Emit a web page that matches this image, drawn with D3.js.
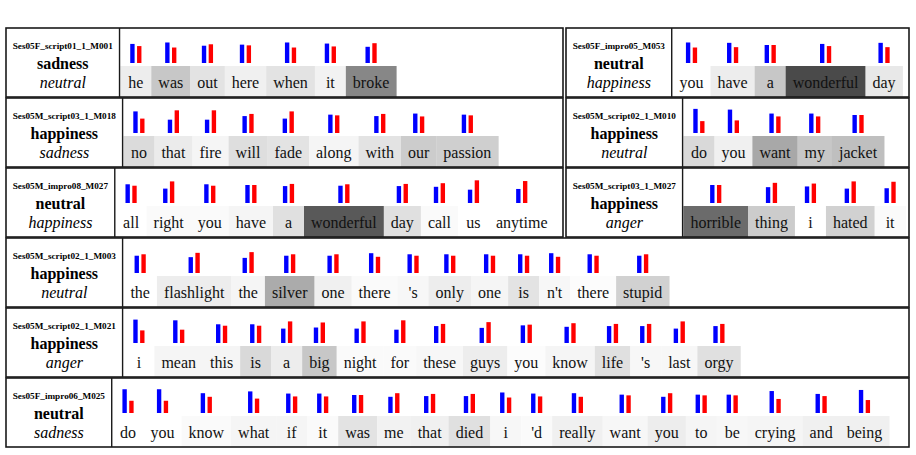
<!DOCTYPE html>
<html><head><meta charset="utf-8">
<script src="https://cdn.jsdelivr.net/npm/d3@7"></script>
<style>body{margin:0;background:#fff} svg{display:block}</style>
</head><body>
<svg id="chart" width="916" height="455"></svg>
<script>
// ---------------- DATA ----------------
const sampleIds = [
  "Ses05F_script01_1_M001", "Ses05F_impro05_M053",
  "Ses05M_script03_1_M018", "Ses05M_script02_1_M010",
  "Ses05M_impro08_M027", "Ses05M_script03_1_M027",
  "Ses05M_script02_1_M003", "Ses05M_script02_1_M021", "Ses05F_impro06_M025"
];
const trueEmotions = ["sadness","neutral","happiness","happiness","neutral","happiness","happiness","happiness","neutral"];
const predEmotions = ["neutral","happiness","sadness","neutral","happiness","anger","neutral","anger","sadness"];

const words = [
  ["he","was","out","here","when","it","broke"],
  ["you","have","a","wonderful","day"],
  ["no","that","fire","will","fade","along","with","our","passion"],
  ["do","you","want","my","jacket"],
  ["all","right","you","have","a","wonderful","day","call","us","anytime"],
  ["horrible","thing","i","hated","it"],
  ["the","flashlight","the","silver","one","there","'s","only","one","is","n't","there","stupid"],
  ["i","mean","this","is","a","big","night","for","these","guys","you","know","life","'s","last","orgy"],
  ["do","you","know","what","if","it","was","me","that","died","i","'d","really","want","you","to","be","crying","and","being"]
];
// word attention weight (cell darkness)
const attention = [
  [0.07,0.22,0.11,0.06,0.11,0.05,0.47],
  [0.00,0.07,0.22,0.71,0.09],
  [0.14,0.08,0.04,0.13,0.11,0.04,0.11,0.20,0.19],
  [0.15,0.06,0.34,0.22,0.25],
  [0.00,0.02,0.02,0.04,0.12,0.65,0.12,0.02,0.00,0.00],
  [0.58,0.20,0.00,0.18,0.02],
  [0.00,0.07,0.04,0.33,0.06,0.02,0.03,0.07,0.04,0.11,0.03,0.01,0.18],
  [0.00,0.04,0.04,0.15,0.07,0.22,0.02,0.02,0.03,0.07,0.01,0.04,0.12,0.03,0.03,0.12],
  [0.00,0.00,0.02,0.04,0.04,0.02,0.11,0.05,0.06,0.12,0.03,0.02,0.06,0.03,0.07,0.04,0.03,0.04,0.06,0.06]
];
// blue bar values
const probBlue = [
  [0.53,0.57,0.48,0.51,0.57,0.54,0.45],
  [0.57,0.56,0.50,0.53,0.56],
  [0.60,0.37,0.37,0.47,0.40,0.51,0.47,0.54,0.51],
  [0.67,0.65,0.54,0.54,0.50],
  [0.52,0.40,0.52,0.50,0.47,0.48,0.47,0.45,0.37,0.39],
  [0.50,0.44,0.46,0.40,0.41],
  [0.48,0.44,0.42,0.48,0.48,0.55,0.52,0.52,0.52,0.52,0.55,0.52,0.48],
  [0.65,0.63,0.52,0.52,0.40,0.43,0.40,0.37,0.47,0.42,0.49,0.45,0.47,0.47,0.40,0.47],
  [0.66,0.66,0.55,0.60,0.54,0.54,0.50,0.45,0.47,0.47,0.57,0.54,0.55,0.51,0.45,0.51,0.51,0.61,0.53,0.64]
];
// red bar values
const probRed = [
  [0.47,0.43,0.52,0.49,0.43,0.46,0.55],
  [0.43,0.44,0.50,0.47,0.44],
  [0.40,0.63,0.63,0.53,0.60,0.49,0.53,0.46,0.49],
  [0.33,0.35,0.46,0.46,0.50],
  [0.48,0.60,0.48,0.50,0.53,0.52,0.53,0.55,0.63,0.61],
  [0.50,0.56,0.54,0.60,0.59],
  [0.52,0.56,0.58,0.52,0.52,0.45,0.48,0.48,0.48,0.48,0.45,0.48,0.52],
  [0.35,0.37,0.48,0.48,0.60,0.57,0.60,0.63,0.53,0.58,0.51,0.55,0.53,0.53,0.60,0.53],
  [0.34,0.34,0.45,0.40,0.46,0.46,0.50,0.55,0.53,0.53,0.43,0.46,0.45,0.49,0.55,0.49,0.49,0.39,0.47,0.36]
];
const barSeries = ["blue","red"];

// ---------------- LAYOUT ----------------
const svg = d3.select("#chart");
const serif = "'Liberation Serif','Times New Roman',Times,serif";
const panels = [
  {row:0, x0:6, x1:563}, {row:0, x0:566, x1:909},
  {row:1, x0:6, x1:563}, {row:1, x0:566, x1:909},
  {row:2, x0:6, x1:563}, {row:2, x0:566, x1:909},
  {row:3, x0:6, x1:909}, {row:4, x0:6, x1:909}, {row:5, x0:6, x1:909}
];
const rowScale = d3.scaleBand().domain(d3.range(6)).range([28, 448]);
const boxH = 69;
const gray = d3.scaleLinear().domain([0,1]).range(["#ffffff","#000000"]);
const barH = d3.scaleLinear().domain([0,1]).range([0,36]);
const pair = d3.scaleBand().domain(barSeries).range([-5.6,5.6]).paddingInner(0.36);
const barColor = d3.scaleOrdinal().domain(barSeries).range(["#0000ff","#ff0000"]);

const meas = svg.append("text").attr("font-family", serif).attr("x",-1000).attr("y",-1000);
function measure(str, size, weight, style) {
  meas.attr("font-size", size).attr("font-weight", weight||"normal").attr("font-style", style||"normal").text(str);
  return meas.node().getComputedTextLength();
}

const cellLayer = svg.append("g");
const lineLayer = svg.append("g");

sampleIds.forEach((id, i) => {
  const p = panels[i];
  const t = rowScale(p.row);
  const idW = measure(id, 9.2, "bold");
  const xDiv = p.x0 + idW + 13.5;
  const g = cellLayer.append("g");

  // word cells
  const widths = words[i].map(w => Math.max(31, measure(w, 16) + 14));
  const starts = [];
  widths.reduce((acc, w) => { starts.push(acc); return acc + w; }, xDiv + 0.8);
  const data = words[i].map((w, j) => ({w, x: starts[j], width: widths[j], a: attention[i][j],
                                         vals: {blue: probBlue[i][j], red: probRed[i][j]}}));
  g.selectAll("rect.cell").data(data).join("rect").attr("class","cell")
    .attr("x", d => d.x).attr("y", t + 38).attr("width", d => d.width + 0.3).attr("height", boxH - 38)
    .attr("fill", d => gray(d.a));
  g.selectAll("text.word").data(data).join("text").attr("class","word")
    .attr("x", d => d.x + d.width/2).attr("y", t + 59.5)
    .attr("text-anchor","middle").attr("font-family", serif).attr("font-size", 16).attr("fill","#111")
    .text(d => d.w);
  // bars
  const bars = [];
  data.forEach(d => barSeries.forEach(s => bars.push({cx: d.x + d.width/2, s, v: d.vals[s]})));
  g.selectAll("rect.bar").data(bars).join("rect").attr("class","bar")
    .attr("x", d => d.cx + pair(d.s)).attr("width", pair.bandwidth())
    .attr("y", d => t + 35 - barH(d.v)).attr("height", d => barH(d.v))
    .attr("fill", d => barColor(d.s));

  // labels
  const lx = (p.x0 + xDiv) / 2;
  g.append("text").attr("x", lx).attr("y", t + 21).attr("text-anchor","middle")
    .attr("font-family", serif).attr("font-size", 9.2).attr("font-weight","bold").text(id);
  g.append("text").attr("x", lx).attr("y", t + 40.5).attr("text-anchor","middle")
    .attr("font-family", serif).attr("font-size", 16).attr("font-weight","bold").text(trueEmotions[i]);
  g.append("text").attr("x", lx).attr("y", t + 59.5).attr("text-anchor","middle")
    .attr("font-family", serif).attr("font-size", 16).attr("font-style","italic").text(predEmotions[i]);

  // borders
  lineLayer.append("rect").attr("x", p.x0).attr("y", t).attr("width", p.x1 - p.x0).attr("height", boxH)
    .attr("fill","none").attr("stroke","#1a1a1a").attr("stroke-width",1.6);
  lineLayer.append("line").attr("x1", xDiv).attr("x2", xDiv).attr("y1", t).attr("y2", t + boxH)
    .attr("stroke","#1a1a1a").attr("stroke-width",1.4);
});
meas.remove();
</script>
</body></html>
